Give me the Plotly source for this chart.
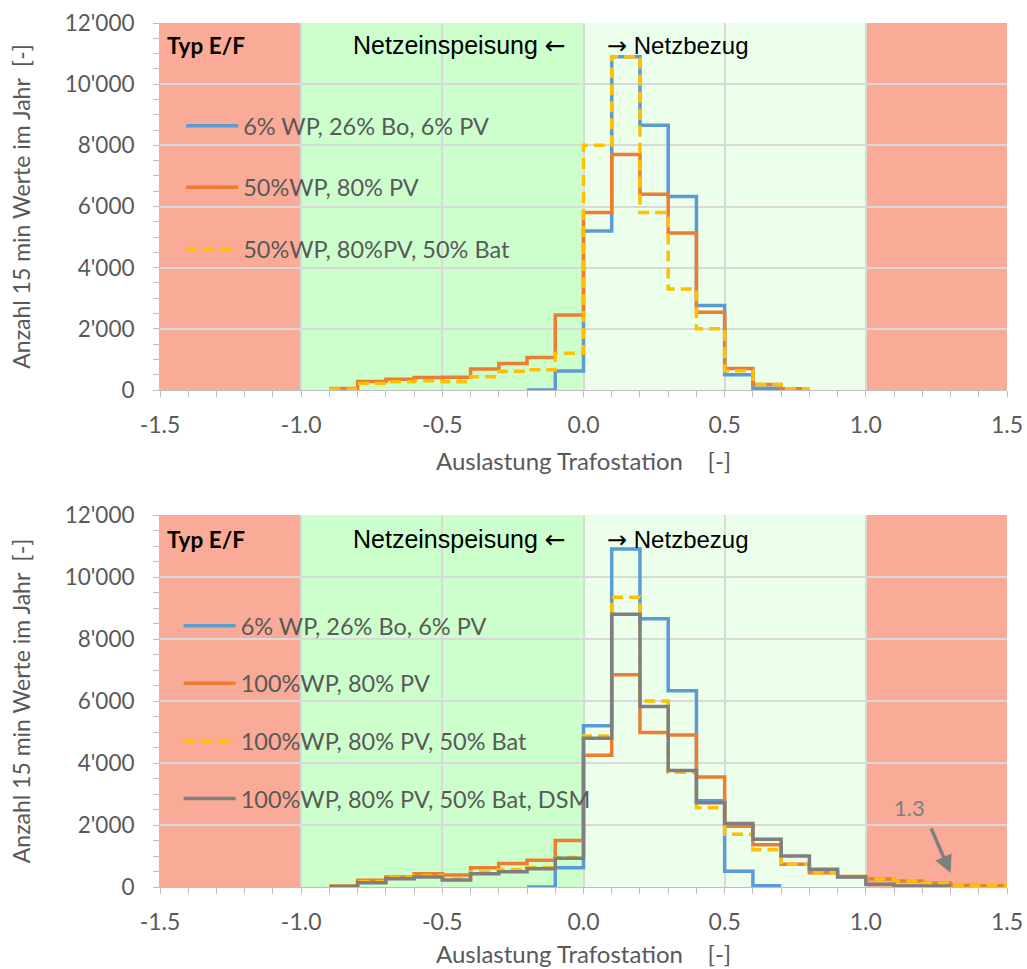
import plotly.graph_objects as go
from plotly.subplots import make_subplots

# ---- data: histogram of transformer load (bin width 0.1), counts of 15-min values per year ----
# top panel
top_blue_edges = [-0.2, -0.1, 0.0, 0.1, 0.2, 0.3, 0.4, 0.5, 0.6, 0.7, 0.8]
top_blue_vals = [0, 620, 5200, 10900, 8660, 6330, 2760, 500, 60, 0]

top_orange_edges = [-0.9, -0.8, -0.7, -0.6, -0.5, -0.4, -0.3, -0.2, -0.1, 0.0,
                    0.1, 0.2, 0.3, 0.4, 0.5, 0.6, 0.7, 0.8]
top_orange_vals = [50, 280, 350, 410, 420, 690, 870, 1065, 2450,
                   5800, 7700, 6400, 5130, 2540, 705, 180, 40]

top_yellow_edges = top_orange_edges
top_yellow_vals = [30, 215, 270, 300, 270, 435, 610, 660, 1200,
                   8000, 10900, 5800, 3300, 2000, 630, 180, 40]

# bottom panel
bot_blue_edges = [-0.2, -0.1, 0.0, 0.1, 0.2, 0.3, 0.4, 0.5, 0.6, 0.7]
bot_blue_vals = [0, 620, 5200, 10900, 8650, 6330, 2780, 510, 40]

bot_edges = [-0.9, -0.8, -0.7, -0.6, -0.5, -0.4, -0.3, -0.2, -0.1, 0.0,
             0.1, 0.2, 0.3, 0.4, 0.5, 0.6, 0.7, 0.8, 0.9, 1.0,
             1.1, 1.2, 1.3, 1.4, 1.5]
bot_orange_vals = [30, 215, 320, 430, 390, 620, 760, 860, 1500,
                   4250, 6850, 4980, 4900, 3550, 1960, 1360, 730, 460, 340,
                   260, 190, 120, 50, 40]
bot_yellow_vals = [25, 180, 300, 360, 260, 480, 560, 630, 950,
                   4870, 9350, 6000, 3700, 2560, 1700, 1200, 730, 460, 340,
                   260, 190, 120, 50, 40]
bot_grey_edges = bot_edges[:23]
bot_grey_vals = [20, 140, 270, 320, 226, 430, 495, 590, 925,
                 4800, 8800, 5820, 3760, 2720, 2050, 1540, 1000, 570, 320,
                 85, 30, 30]

# series names
top_names = ["6% WP, 26% Bo, 6% PV", "50%WP, 80% PV", "50%WP, 80%PV, 50% Bat"]
bot_names = ["6% WP, 26% Bo, 6% PV", "100%WP, 80% PV", "100%WP, 80% PV, 50% Bat",
             "100%WP, 80% PV, 50% Bat, DSM"]

# axis ticks
x_ticks = [-1.5, -1.0, -0.5, 0.0, 0.5, 1.0, 1.5]
x_ticktext = ["-1.5", "-1.0", "-0.5", "0.0", "0.5", "1.0", "1.5"]
y_ticks = [0, 2000, 4000, 6000, 8000, 10000, 12000]
y_ticktext = ["0", "2'000", "4'000", "6'000", "8'000", "10'000", "12'000"]

# load zones
zone_edges = [-1.5, -1.0, 0.0, 1.0, 1.5]
zone_colors = ["#F9AB97", "#CCFFCC", "#EBFFEB", "#F9AB97"]

BLUE = "#5B9BD5"
ORANGE = "#ED7D31"
YELLOW = "#FFC000"
GREY = "#7F7F7F"
TXT = "#595959"
FONT = "Lato"
ARROW_SPAN = '<span style="font-family:DejaVu Sans">{}</span>'
X_TITLE = "Auslastung Trafostation    [-]"
Y_TITLE = "Anzahl 15 min Werte im Jahr  [-]"


def steps(edges, vals):
    # repeat last value so the final bin is drawn to its right edge
    return list(edges), list(vals) + [vals[-1]]


fig = make_subplots(rows=2, cols=1, vertical_spacing=0.0)

series_top = [
    (top_blue_edges, top_blue_vals, BLUE, "solid", top_names[0]),
    (top_orange_edges, top_orange_vals, ORANGE, "solid", top_names[1]),
    (top_yellow_edges, top_yellow_vals, YELLOW, "11px,6px", top_names[2]),
]
for i, (e, v, c, d, n) in enumerate(series_top):
    xs, ys = steps(e, v)
    fig.add_trace(go.Scatter(x=xs, y=ys, mode="lines", name=n, line_shape="hv",
                             line=dict(color=c, width=3.5, dash=d),
                             legend="legend", legendgroup=f"t{i}"), row=1, col=1)

series_bot = [
    (bot_blue_edges, bot_blue_vals, BLUE, "solid", bot_names[0]),
    (bot_edges, bot_orange_vals, ORANGE, "solid", bot_names[1]),
    (bot_edges, bot_yellow_vals, YELLOW, "11px,6px", bot_names[2]),
    (bot_grey_edges, bot_grey_vals, GREY, "solid", bot_names[3]),
]
for i, (e, v, c, d, n) in enumerate(series_bot):
    xs, ys = steps(e, v)
    fig.add_trace(go.Scatter(x=xs, y=ys, mode="lines", name=n, line_shape="hv",
                             line=dict(color=c, width=3.5, dash=d),
                             legend="legend2", legendgroup=f"b{i}"), row=2, col=1)

# coloured load zones behind the grid
for xr, yr in (("x", "y domain"), ("x2", "y2 domain")):
    for k, col in enumerate(zone_colors):
        fig.add_shape(type="rect", xref=xr, yref=yr, x0=zone_edges[k], x1=zone_edges[k + 1],
                      y0=0, y1=1, fillcolor=col, line_width=0, layer="below")

axis_common = dict(showline=True, linecolor="#BFBFBF", linewidth=1,
                   ticks="outside", tickcolor="#BFBFBF", ticklen=6,
                   showgrid=True, gridcolor="#D9D9D9", gridwidth=1.5,
                   zeroline=False, automargin=False)

for ax in ("xaxis", "xaxis2"):
    fig.update_layout({ax: dict(axis_common, range=[-1.5, 1.5], tickvals=x_ticks,
                                ticktext=x_ticktext, ticklabelstandoff=8,
                                tickfont=dict(family=FONT, size=23, color=TXT),
                                minor=dict(dtick=0.1, tick0=0, ticks="outside", ticklen=6,
                                           tickcolor="#BFBFBF", showgrid=False))})
for ax in ("yaxis", "yaxis2"):
    fig.update_layout({ax: dict(axis_common, range=[0, 12000], tickvals=y_ticks,
                                ticktext=y_ticktext, ticklabelstandoff=14,
                                tickfont=dict(family=FONT, size=22.5, color=TXT),
                                minor=dict(dtick=500, tick0=0, ticks="outside", ticklen=6,
                                           tickcolor="#BFBFBF", showgrid=False),
                                title=dict(text=Y_TITLE, standoff=27,
                                           font=dict(family=FONT, size=23, color=TXT)))})

H, W = 969, 1027
mt, mb, ml, mr = 23, 82, 160, 20
ph = H - mt - mb
fig.update_layout(
    yaxis=dict(domain=[(887 - 390) / ph, 1.0]),
    yaxis2=dict(domain=[0.0, (887 - 515) / ph]),
)

# x-axis titles placed below each panel
for xr, yr, shift in (("x", "y", -70), ("x2", "y2", -66)):
    fig.add_annotation(xref=xr + " domain", yref=yr + " domain", x=0.5, y=0, yshift=shift,
                       text=X_TITLE, showarrow=False, yanchor="middle",
                       font=dict(family=FONT, size=24, color=TXT))

legend_common = dict(bgcolor="rgba(0,0,0,0)", font=dict(family=FONT, size=23.5, color=TXT),
                     xanchor="left", yanchor="top", itemwidth=52, itemclick=False)
fig.update_layout(
    legend=dict(legend_common, x=0.025, y=(887 - 104) / ph, tracegroupgap=28),
    legend2=dict(legend_common, x=0.022, y=(887 - 604) / ph, tracegroupgap=24),
)

# text labels
for xr, yr, yv in (("x", "y", 11250), ("x2", "y2", 11200)):
    fig.add_annotation(xref=xr + " domain", yref=yr, x=0.006, y=yv, text="<b>Typ E/F</b>",
                       showarrow=False, xanchor="left",
                       font=dict(family=FONT, size=22.5, color="black"))
    fig.add_annotation(xref=xr, yref=yr, x=-0.055, y=yv,
                       text="Netzeinspeisung " + ARROW_SPAN.format("\u2190"),
                       showarrow=False, xanchor="right",
                       font=dict(family="Liberation Sans", size=25, color="black"))
    fig.add_annotation(xref=xr, yref=yr, x=0.075, y=yv,
                       text=ARROW_SPAN.format("\u2192") + " Netzbezug",
                       showarrow=False, xanchor="left",
                       font=dict(family="Liberation Sans", size=24, color="black"))

# marker for the maximum load in the bottom panel
fig.add_annotation(xref="x2", yref="y2", x=1.3, y=450, ax=-20, ay=-46, text="",
                   showarrow=True, arrowhead=2, arrowsize=1, arrowwidth=3.5, arrowcolor=GREY)
fig.add_annotation(xref="x2", yref="y2", x=1.155, y=2580, text="1.3", showarrow=False,
                   font=dict(family=FONT, size=22, color=GREY))

fig.update_layout(width=W, height=H, margin=dict(l=ml, r=mr, t=mt, b=mb),
                  plot_bgcolor="white", paper_bgcolor="white", showlegend=True)

fig.write_html("out.html")
